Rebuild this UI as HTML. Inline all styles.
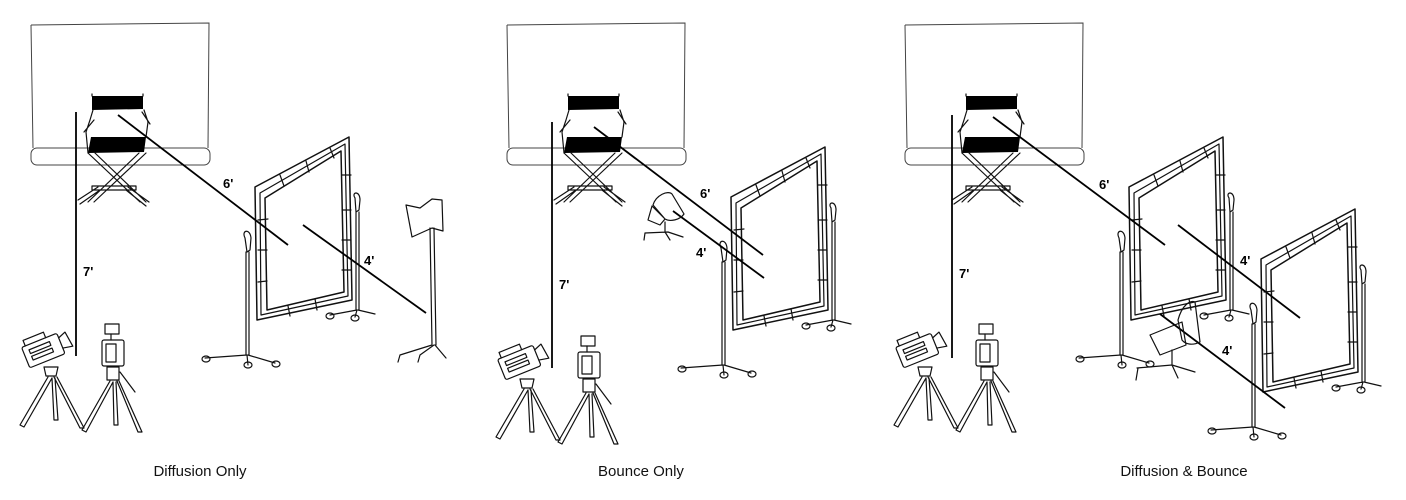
<!DOCTYPE html>
<html><head><meta charset="utf-8"><style>
html,body{margin:0;padding:0;background:#fff;}
svg{display:block;}
.s{fill:none;stroke:#111;stroke-width:1.2;stroke-linejoin:round;stroke-linecap:round;}
.f{fill:none;stroke:#111;stroke-width:1.5;stroke-linejoin:round;stroke-linecap:round;}
.bd{fill:none;stroke:#444;stroke-width:1;}
.m{stroke:#000;stroke-width:1.8;fill:none;}
.lb{font-family:"Liberation Sans",sans-serif;font-weight:bold;font-size:13px;fill:#000;}
.cap{font-family:"Liberation Sans",sans-serif;font-size:15px;fill:#111;}
</style></head><body>
<svg width="1406" height="500" viewBox="0 0 1406 500" xmlns="http://www.w3.org/2000/svg">
<defs>
<g id="backdrop">
  <path class="bd" d="M31,25 L209,23 L208,148 M31,25 L33,148"/>
  <rect class="bd" x="31" y="148" width="179" height="17" rx="6" fill="#fff"/>
</g>
<g id="chair">
  <path d="M92,96 L143,96 L143,109 L92,110 Z" fill="#000"/>
  <path d="M91,137 L146,137 L144,152 L88,153 Z" fill="#000"/>
  <path class="s" d="M92,94 L92,96 M143,94 L143,96 M88,153 L86,132 L90,120 L93,110 M146,137 L148,122 L144,110 M84,132 L94,120 M150,124 L142,112"/>
  <path class="s" stroke-width="1.4" d="M88,153 L140,202 M95,153 L146,202 M146,153 L94,202 M139,153 L88,202 M92,186 L136,186 L136,190 L92,190 Z M80,204 L100,190 M126,190 L146,206 M78,200 L98,187 M128,187 L149,202"/>
</g>
<g id="cams">
  <g transform="rotate(-22 42 350)">
    <rect class="s" x="24" y="340" width="38" height="22" rx="2"/>
    <rect class="s" x="30" y="345" width="22" height="4"/>
    <rect class="s" x="30" y="352" width="22" height="4"/>
    <path class="s" d="M62,345 L70,342 L72,358 L62,356 M28,340 L28,334 L50,334 L50,340"/>
  </g>
  <path class="s" d="M44,367 L58,367 L56,376 L46,376 Z M48,377 L20,425 L24,427 L52,378 M52,378 L54,420 L58,420 L55,378 M54,377 L80,428 L84,428 L57,377"/>
  <rect class="s" x="105" y="324" width="14" height="10"/>
  <path class="s" d="M111,334 L111,340"/>
  <rect class="s" x="102" y="340" width="22" height="26" rx="2"/>
  <rect class="s" x="106" y="344" width="10" height="18"/>
  <path class="s" d="M107,367 L119,367 L119,380 L107,380 Z M110,381 L82,430 L86,432 L113,382 M113,382 L114,425 L118,425 L116,382 M117,381 L138,432 L142,432 L119,381 M120,372 L135,392"/>
</g>
<g id="frame">
  <path class="f" d="M255,187 L349,137 L352,300 L257,320 Z"/>
  <path class="f" d="M265,198 L341,151 L344,292 L267,310 Z"/>
  <path class="s" d="M260,193 L345,144 L348,296 L261,315 Z" stroke-width="1"/>
  <path class="s" d="M280,175 L284,186 M306,161 L309,172 M330,148 L334,158 M258,220 L268,219 M258,250 L267,250 M258,282 L267,281 M342,175 L351,175 M342,210 L351,210 M342,240 L351,240 M342,270 L351,270 M288,306 L290,316 M315,299 L317,310"/>
  <path class="s" d="M245,238 C241,230 250,228 251,238 L250,250 L247,252 Z M246,252 L246,355 M249,252 L249,355 M247,355 L205,358 M247,355 L248,365 M248,355 L275,363"/>
  <ellipse class="s" cx="206" cy="359" rx="4" ry="3"/>
  <ellipse class="s" cx="248" cy="365" rx="4" ry="3"/>
  <ellipse class="s" cx="276" cy="364" rx="4" ry="3"/>
  <path class="s" d="M355,198 C351,192 360,190 360,200 L359,210 L356,212 Z M356,212 L356,310 M359,212 L359,310 M357,310 L330,315 M357,310 L355,317 M358,310 L375,314"/>
  <ellipse class="s" cx="330" cy="316" rx="4" ry="3"/>
  <ellipse class="s" cx="355" cy="318" rx="4" ry="3"/>
</g>
</defs>

<use href="#backdrop"/>
<use href="#chair"/>
<use href="#cams"/>
<use href="#frame"/>
<line class="m" x1="76" y1="112" x2="76" y2="356"/>
<text class="lb" x="83" y="276">7'</text>
<line class="m" x1="118" y1="115" x2="288" y2="245"/>
<line class="m" x1="303" y1="225" x2="426" y2="313"/>
<text class="lb" x="223" y="188">6'</text>
<text class="lb" x="364" y="265">4'</text>
<path class="s" d="M406,205 L420,208 L432,199 L442,200 L443,231 L432,228 L412,237 Z"/>
<path class="s" d="M430,228 L432,345 M434,228 L436,345 M432,345 L400,355 L398,362 M434,345 L420,355 L418,362 M435,345 L446,358"/>

<g transform="translate(476,0)">
  <use href="#backdrop"/>
  <use href="#chair"/>
</g>
<use href="#cams" transform="translate(476,12)"/>
<use href="#frame" transform="translate(476,10)"/>
<line class="m" x1="552" y1="122" x2="552" y2="368"/>
<text class="lb" x="559" y="289">7'</text>
<line class="m" x1="594" y1="127" x2="763" y2="255"/>
<line class="m" x1="673" y1="211" x2="764" y2="278"/>
<text class="lb" x="700" y="198">6'</text>
<text class="lb" x="696" y="257">4'</text>
<path class="s" d="M653,205 C656,195 668,190 672,194 L684,214 C680,220 670,222 665,219 Z M652,206 L665,219 L660,225 L648,220 Z M665,222 L665,232 M645,233 L668,232 L683,237 M665,232 L670,240 M645,233 L644,240"/>

<g transform="translate(874,0)">
  <use href="#backdrop"/>
  <use href="#chair"/>
  <use href="#cams"/>
  <use href="#frame"/>
</g>
<use href="#frame" transform="translate(1006,72)"/>
<line class="m" x1="952" y1="115" x2="952" y2="358"/>
<text class="lb" x="959" y="278">7'</text>
<line class="m" x1="993" y1="117" x2="1165" y2="245"/>
<line class="m" x1="1178" y1="225" x2="1300" y2="318"/>
<line class="m" x1="1160" y1="314" x2="1285" y2="408"/>
<text class="lb" x="1099" y="189">6'</text>
<text class="lb" x="1240" y="265">4'</text>
<text class="lb" x="1222" y="355">4'</text>
<path class="s" d="M1178,320 C1182,305 1190,300 1195,302 L1200,342 C1192,346 1185,344 1182,340 Z M1150,335 L1182,322 L1186,345 L1160,355 Z M1172,350 L1172,365 M1137,368 L1172,365 L1195,372 M1172,365 L1178,378 M1138,368 L1136,380"/>

<text class="cap" x="200" y="476" text-anchor="middle">Diffusion Only</text>
<text class="cap" x="641" y="476" text-anchor="middle">Bounce Only</text>
<text class="cap" x="1184" y="476" text-anchor="middle">Diffusion &amp; Bounce</text>
</svg>
</body></html>
